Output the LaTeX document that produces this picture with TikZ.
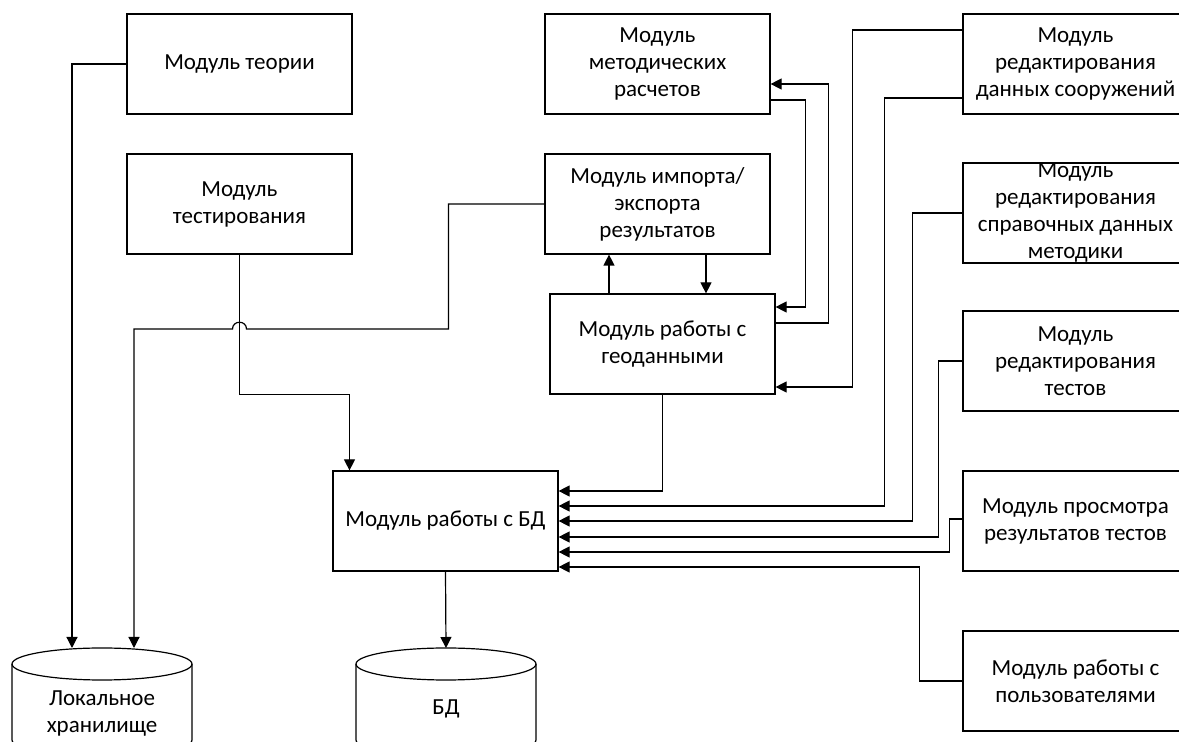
\documentclass[tikz,border=0pt]{standalone}
\usepackage{fontspec}
\setmainfont{Carlito}
\usetikzlibrary{arrows.meta}

\begin{document}
\begin{tikzpicture}[x=0.5pt,y=-0.5pt,line width=0.6pt,
  font=\fontsize{11.5}{13.5}\selectfont,
  box/.style={draw,rectangle,minimum width=112.5pt,minimum height=50pt,inner sep=0pt,align=center},
  arr/.style={-{Triangle[length=5.5pt,width=5.5pt]}}]
  \useasboundingbox (0,0) rectangle (1179,742);
  % left column
  \node[box] (theory) at (239.5,64) {Модуль теории};
  \node[box] (test) at (239.5,204) {Модуль\\тестирования};
  % middle column
  \node[box] (calc) at (657.5,64) {Модуль\\методических\\расчетов};
  \node[box] (imp) at (657.5,204) {Модуль импорта/\\экспорта\\результатов};
  \node[box] (geo) at (662.5,344) {Модуль работы с\\геоданными};
  \node[box] (dbmod) at (445.5,521) {Модуль работы с БД};
  % right column, cut by the page edge
  \node[box] (edstr) at (1075.5,64) {Модуль\\редактирования\\данных сооружений};
  \node[box,inner ysep=-3pt] (edref) at (1075.5,213) {Модуль\\редактирования\\справочных данных\\методики};
  \node[box] (edtest) at (1075.5,361) {Модуль\\редактирования\\тестов};
  \node[box] (view) at (1075.5,521) {Модуль просмотра\\результатов тестов};
  \node[box] (users) at (1075.5,681) {Модуль работы с\\пользователями};
  % storages: cylinders, bottom cut by the page edge
  \foreach \cx/\nm in {102/local,446/bd} {
    \draw (\cx,664) ellipse [x radius=45pt,y radius=8pt];
    \draw (\cx-90,664) -- (\cx-90,740) arc [start angle=180,end angle=360,x radius=45pt,y radius=8pt] -- (\cx+90,664);
    \coordinate (\nm) at (\cx,648);
  }
  \node[align=center] (localtxt) at (102,714) {Локальное\\хранилище};
  \node (bdtxt) at (446,709) {БД};

  \draw[arr] (theory.west) -| ([xshift=-15pt]local);
  \draw[arr] (test.south) -- ++(0,140) -| ([xshift=-48pt]dbmod.north);
  % import line jumps over the test line
  \coordinate (hop) at (test.south |- 0,329);
  \draw[arr] (imp.west) -- ++(-96,0) |- ([xshift=3.5pt]hop)
    .. controls +(0,-9) and +(0,-9) .. ([xshift=-3.5pt]hop) -| ([xshift=16pt]local);
  \draw[arr] (geo.north -| 609,0) -- (imp.south -| 609,0);
  \draw[arr] (imp.south -| 706,0) -- (geo.north -| 706,0);
  \draw[arr] ([yshift=10.5pt]geo.east) -- ++(53,0) |- ([yshift=-10pt]calc.east);
  \draw[arr] ([yshift=-18pt]calc.east) -- ++(35,0) |- ([yshift=18.5pt]geo.east);
  \draw[arr] ([yshift=17pt]edstr.west) -- ++(-110,0) |- ([yshift=-21.5pt]geo.east);
  % everything into the DB module
  \draw[arr] (geo.south) |- ([yshift=15pt]dbmod.east);
  \draw[arr] ([yshift=-17pt]edstr.west) -- ++(-78,0) |- ([yshift=7.5pt]dbmod.east);
  \draw[arr] (edref.west) -- ++(-50,0) |- (dbmod.east);
  \draw[arr] (edtest.west) -- ++(-24,0) |- ([yshift=-8pt]dbmod.east);
  \draw[arr] ([yshift=1pt]view.west) -- ++(-13,0) |- ([yshift=-15.5pt]dbmod.east);
  \draw[arr] (users.west) -- ++(-43,0) |- ([yshift=-23pt]dbmod.east);
  \draw[arr] (dbmod.south) -- (bd);
\end{tikzpicture}
\end{document}
